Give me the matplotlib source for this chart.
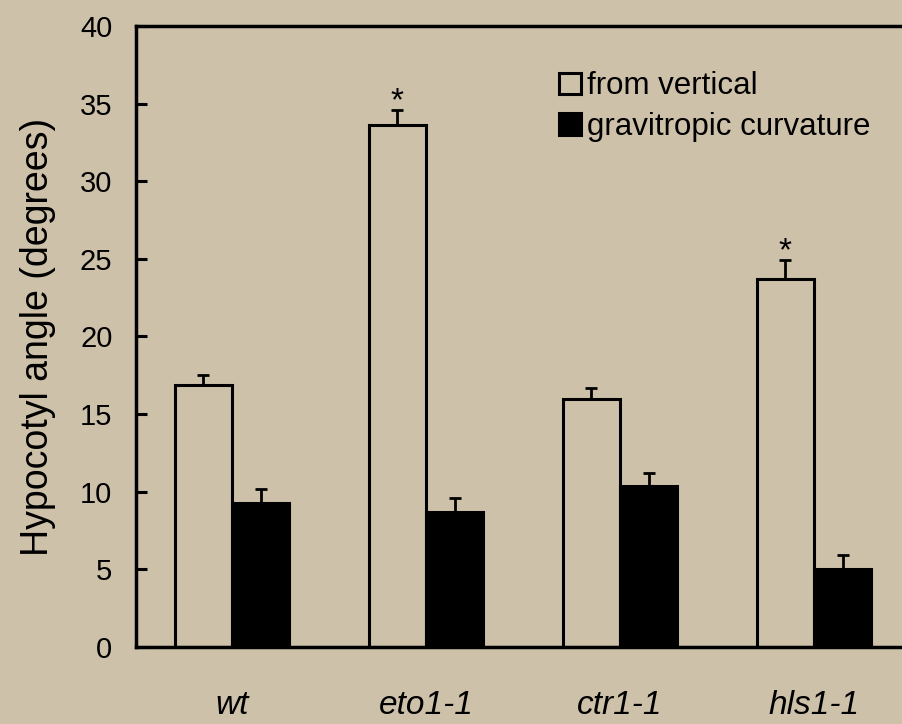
import matplotlib.pyplot as plt
import numpy as np

plt.rcParams['font.family'] = ['Liberation Sans', 'DejaVu Sans']

genotypes = ['wt', 'eto1-1', 'ctr1-1', 'hls1-1']
vertical = [16.9, 33.6, 16.0, 23.7]
vertical_err = [0.6, 1.0, 0.7, 1.2]
curvature = [9.3, 8.7, 10.4, 5.0]
curvature_err = [0.85, 0.9, 0.8, 0.9]
stars = ['', '*', '', '*']

bg = '#cec1a9'
fig = plt.figure(figsize=(9.03, 7.24), dpi=100, facecolor=bg)
ax = fig.add_axes([0.1506, 0.1064, 0.8494, 0.8577], facecolor=bg)

x = np.arange(len(genotypes))
w = 0.295
ax.bar(x - w / 2, vertical, w, color=bg, edgecolor='black', linewidth=2.2,
       label='from vertical', zorder=2)
ax.errorbar(x - w / 2, vertical, yerr=[np.zeros(4), vertical_err], fmt='none',
            ecolor='black', elinewidth=2, capsize=4.5, capthick=2, zorder=3)
ax.bar(x + w / 2, curvature, w, color='black', edgecolor='black', linewidth=2.2,
       label='gravitropic curvature', zorder=2)
ax.errorbar(x + w / 2, curvature, yerr=[np.zeros(4), curvature_err], fmt='none',
            ecolor='black', elinewidth=2, capsize=4.5, capthick=2, zorder=3)

# significance stars sit just above the error caps
for i, s in enumerate(stars):
    if s:
        ax.annotate(s, (x[i] - w / 2, vertical[i] + vertical_err[i]),
                    xytext=(0, -5), textcoords='offset points',
                    ha='center', va='bottom', fontsize=24)

ax.set_xlim(-0.495, 3.459)
ax.set_ylim(0, 40)
ax.set_yticks(range(0, 41, 5))
ax.tick_params(axis='y', direction='in', length=8, width=2.2, labelsize=21, pad=17)
ax.set_xticks(x)
ax.set_xticklabels(genotypes, style='italic', fontsize=24)
ax.tick_params(axis='x', length=0, pad=31)
ax.set_ylabel('Hypocotyl angle (degrees)', fontsize=27, labelpad=17)

for side in ['left', 'bottom', 'top']:
    ax.spines[side].set_linewidth(2.5)
ax.spines['right'].set_visible(False)

ax.legend(loc='upper left', bbox_to_anchor=(0.535, 0.947), frameon=False,
          fontsize=22.5, handlelength=0.7, handleheight=0.7, handletextpad=0.2,
          labelspacing=0.35, borderaxespad=0)

fig.savefig('out.png', dpi=100, facecolor=bg)
